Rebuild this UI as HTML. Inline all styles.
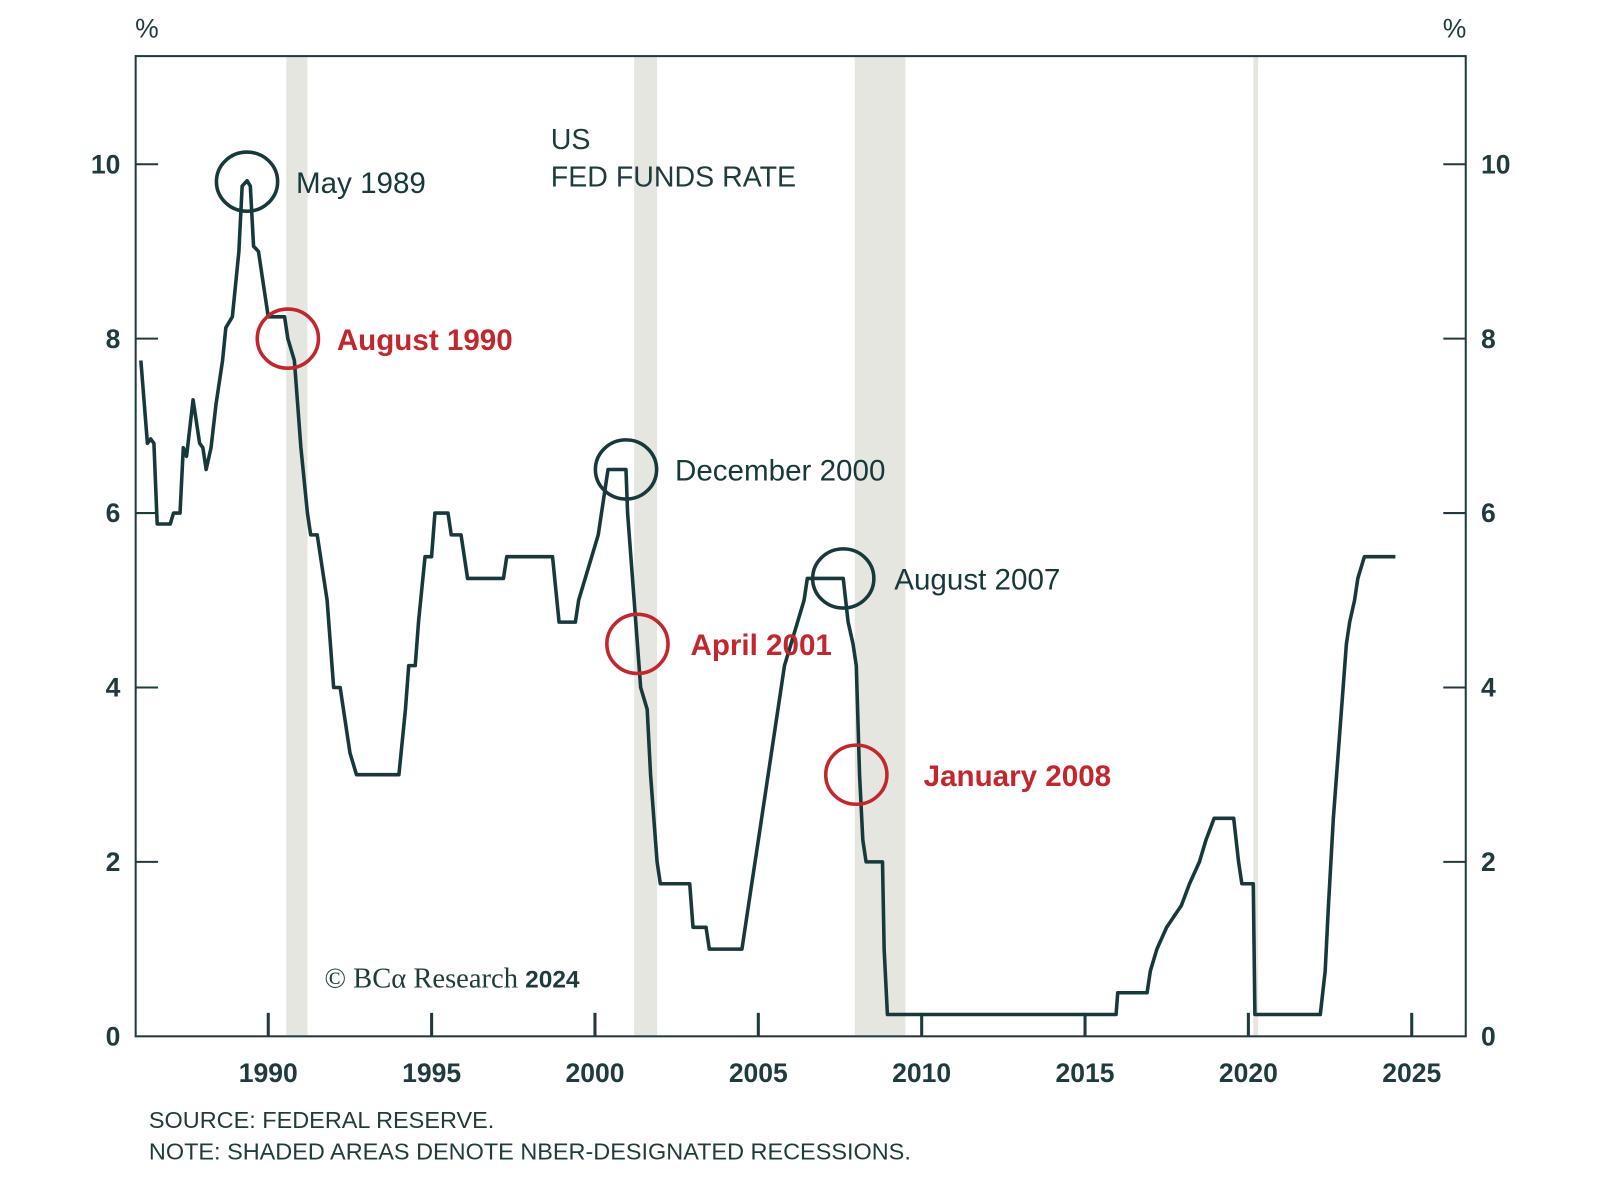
<!DOCTYPE html>
<html><head><meta charset="utf-8"><style>
html,body{margin:0;padding:0;background:#fff;width:1600px;height:1200px;overflow:hidden}
svg text{font-family:"Liberation Sans",sans-serif}
</style></head><body>
<svg id="chart" width="1600" height="1200" viewBox="0 0 1600 1200">
<g transform="scale(1.02)">
<g id="rec"></g>
<rect x="133" y="55" width="1304" height="961" fill="none" stroke="#1e3b3e" stroke-width="2"/>
<g id="axes"></g>
<path id="line" fill="none" stroke="#17393b" stroke-width="3.5" stroke-linejoin="round"/>
<g id="ann"></g>
<text x="144" y="37" font-size="26" fill="#1e3b3e" text-anchor="middle">%</text>
<text x="1426" y="37" font-size="26" fill="#1e3b3e" text-anchor="middle">%</text>
<text x="540" y="146" font-size="28" fill="#1e3b3e">US</text>
<text x="540" y="183" font-size="28" fill="#1e3b3e">FED FUNDS RATE</text>
<text x="318" y="968" font-size="28" fill="#1e3b3e" style="font-family:'Liberation Serif',serif">© BCα Research <tspan style="font-family:'Liberation Sans',sans-serif;font-weight:bold" font-size="24">2024</tspan></text>
<text x="146" y="1106" font-size="23" fill="#1e3b3e">SOURCE: FEDERAL RESERVE.</text>
<text x="146" y="1137" font-size="23" fill="#1e3b3e">NOTE: SHADED AREAS DENOTE NBER-DESIGNATED RECESSIONS.</text>
</g>
</svg>
<script>
const years=[1986.1,1986.3,1986.4,1986.5,1986.6,1987.0,1987.1,1987.3,1987.4,1987.5,1987.7,1987.9,1988.0,1988.1,1988.25,1988.4,1988.6,1988.7,1988.9,1989.1,1989.2,1989.35,1989.45,1989.55,1989.7,1989.9,1990.0,1990.5,1990.6,1990.8,1990.9,1991.0,1991.2,1991.3,1991.5,1991.8,1991.9,1992.0,1992.2,1992.3,1992.5,1992.7,1994.0,1994.2,1994.3,1994.5,1994.6,1994.8,1995.0,1995.1,1995.5,1995.6,1995.9,1996.1,1997.2,1997.3,1998.7,1998.9,1999.4,1999.5,1999.7,1999.9,2000.1,2000.2,2000.4,2000.95,2001.0,2001.1,2001.2,2001.3,2001.4,2001.6,2001.7,2001.8,2001.9,2002.0,2002.9,2003.0,2003.4,2003.5,2004.5,2004.6,2004.8,2005.0,2005.2,2005.4,2005.6,2005.8,2006.0,2006.2,2006.4,2006.5,2007.6,2007.75,2007.9,2008.0,2008.1,2008.2,2008.3,2008.8,2008.85,2008.95,2015.95,2016.0,2016.9,2017.0,2017.2,2017.5,2017.95,2018.2,2018.5,2018.7,2018.95,2019.55,2019.7,2019.8,2020.15,2020.2,2022.2,2022.35,2022.45,2022.6,2022.75,2022.9,2023.0,2023.1,2023.25,2023.35,2023.55,2024.5];
const rates=[7.75,6.8,6.85,6.8,5.875,5.875,6.0,6.0,6.75,6.65,7.3,6.8,6.75,6.5,6.75,7.25,7.75,8.125,8.25,9.0,9.75,9.81,9.75,9.06,9.0,8.5,8.25,8.25,8.0,7.75,7.25,6.75,6.0,5.75,5.75,5.0,4.5,4.0,4.0,3.75,3.25,3.0,3.0,3.75,4.25,4.25,4.75,5.5,5.5,6.0,6.0,5.75,5.75,5.25,5.25,5.5,5.5,4.75,4.75,5.0,5.25,5.5,5.75,6.0,6.5,6.5,6.0,5.5,5.0,4.5,4.0,3.75,3.0,2.5,2.0,1.75,1.75,1.25,1.25,1.0,1.0,1.25,1.75,2.25,2.75,3.25,3.75,4.25,4.5,4.75,5.0,5.25,5.25,4.75,4.5,4.25,3.0,2.25,2.0,2.0,1.0,0.25,0.25,0.5,0.5,0.75,1.0,1.25,1.5,1.75,2.0,2.25,2.5,2.5,2.0,1.75,1.75,0.25,0.25,0.75,1.5,2.5,3.25,4.0,4.5,4.75,5.0,5.25,5.5,5.5];
const recStart=[1990.55,2001.2,2007.95,2020.15];
const recEnd=[1991.2,2001.9,2009.5,2020.3];
const yTicks=[0,2,4,6,8,10];
const xTicks=[1990,1995,2000,2005,2010,2015,2020,2025];
const annLabels=["May 1989","August 1990","December 2000","April 2001","August 2007","January 2008"];
const annYears=[1989.35,1990.6,2000.95,2001.3,2007.6,2008.0];
const annRates=[9.8,8.0,6.5,4.5,5.25,3.0];
const annRed=[false,true,false,true,false,true];
const annDx=[48,48,48,52,50,66];

const X=y=>263+(y-1990)*32.03;
const Y=v=>1016-v*85.5;
const NS="http://www.w3.org/2000/svg";
function mk(tag,attrs,parent){const e=document.createElementNS(NS,tag);for(const k in attrs)e.setAttribute(k,attrs[k]);parent.appendChild(e);return e;}
const rec=document.getElementById('rec');
recStart.forEach((s,i)=>{const r=mk('rect',{x:X(s),y:56,width:X(recEnd[i])-X(s),height:959,fill:'#e6e6e1'},rec);

});
const ax=document.getElementById('axes');
yTicks.forEach(v=>{
 if(v>0){mk('line',{x1:133,x2:155,y1:Y(v),y2:Y(v),stroke:'#1e3b3e','stroke-width':2},ax);
 mk('line',{x1:1415,x2:1437,y1:Y(v),y2:Y(v),stroke:'#1e3b3e','stroke-width':2},ax);}
 const t=mk('text',{x:118,y:Y(v)+9,'font-size':26,'font-weight':'bold',fill:'#1e3b3e','text-anchor':'end'},ax);t.textContent=v;
 
 
 const t2=mk('text',{x:1452,y:Y(v)+9,'font-size':26,'font-weight':'bold',fill:'#1e3b3e'},ax);t2.textContent=v;
 
 
});
xTicks.forEach(y=>{
 mk('line',{x1:X(y),x2:X(y),y1:1016,y2:993,stroke:'#1e3b3e','stroke-width':3},ax);
 const t=mk('text',{x:X(y),y:1061,'font-size':26,'font-weight':'bold',fill:'#1e3b3e','text-anchor':'middle'},ax);t.textContent=y;
 
 
});
document.getElementById('line').setAttribute('d',years.map((y,i)=>(i?'L':'M')+X(y).toFixed(1)+','+Y(rates[i]).toFixed(1)).join(''));
const ann=document.getElementById('ann');
annLabels.forEach((l,i)=>{
 const c=annRed[i]?'#c1272d':'#17393b';
 const cx=X(annYears[i]),cy=Y(annRates[i]);
 const e=mk('ellipse',{cx:cx,cy:cy,rx:30,ry:29,fill:'none',stroke:c,'stroke-width':3.5},ann);
 
 
 const t=mk('text',{x:cx+annDx[i],y:cy+11,'font-size':29,'font-weight':annRed[i]?'bold':'normal',fill:c},ann);t.textContent=l;
 
 
});
</script>
</body></html>
